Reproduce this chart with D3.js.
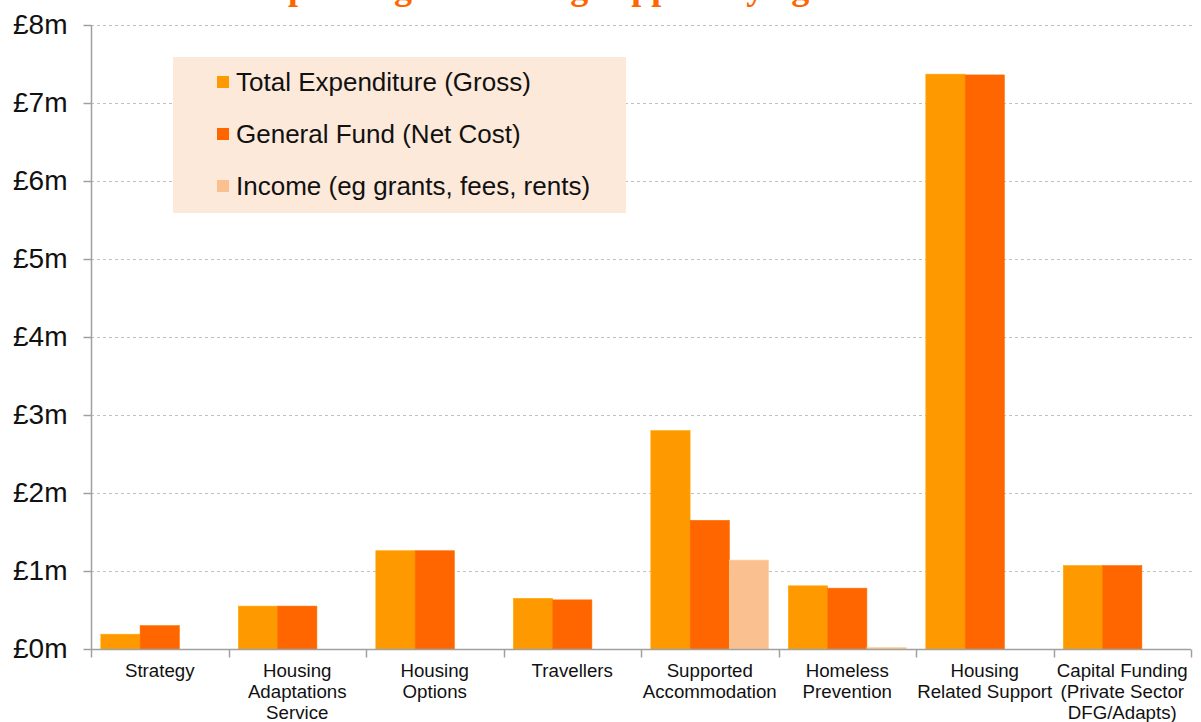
<!DOCTYPE html>
<html>
<head>
<meta charset="utf-8">
<script src="https://cdn.jsdelivr.net/npm/d3@7"></script>
<style>
  body { margin: 0; background: #fff; }
  svg { display: block; }
</style>
</head>
<body>
<div id="chart"></div>
<script>
// categories (multi-line labels)
var categories = [
  ["Strategy"],
  ["Housing", "Adaptations", "Service"],
  ["Housing", "Options"],
  ["Travellers"],
  ["Supported", "Accommodation"],
  ["Homeless", "Prevention"],
  ["Housing", "Related Support"],
  ["Capital Funding", "(Private Sector", "DFG/Adapts)"]
];
var seriesNames = ["Total Expenditure (Gross)", "General Fund (Net Cost)", "Income (eg grants, fees, rents)"];
var seriesColors = ["#ff9900", "#ff6600", "#fac090"];

// values in £m
var grossValues  = [0.19, 0.55, 1.26, 0.65, 2.80, 0.81, 7.37, 1.07];
var netValues    = [0.30, 0.55, 1.26, 0.63, 1.65, 0.78, 7.36, 1.07];
var incomeValues = [0,    0,    0,    0,    1.14, 0.02, 0,    0];

var yTicks = [0, 1, 2, 3, 4, 5, 6, 7, 8];
var titleText = "Spending on housing support by age";

var width = 1201, height = 722;
var margin = {left: 91, right: 10, top: 25, bottom: 73};

var svg = d3.select("#chart").append("svg")
  .attr("width", width)
  .attr("height", height);

// title (only its descenders show at the top edge, as in the slide)
svg.append("text")
  .attr("x", 268)
  .attr("y", -1)
  .attr("font-family", "'Liberation Serif', serif")
  .attr("font-weight", "bold")
  .attr("font-size", 36)
  .attr("fill", "#ff6600")
  .text(titleText);

var x = d3.scaleBand()
  .domain(d3.range(categories.length))
  .range([margin.left, width - margin.right]);

var xs = d3.scaleBand()
  .domain([0, 1, 2])
  .range([0, x.bandwidth()])
  .paddingOuter(0.25)
  .paddingInner(0);

var y = d3.scaleLinear()
  .domain([0, 8])
  .range([height - margin.bottom, margin.top]);

// gridlines
svg.append("g")
  .selectAll("line")
  .data(yTicks.slice(1))
  .join("line")
  .attr("x1", margin.left)
  .attr("x2", width - margin.right + 4)
  .attr("y1", function(d){ return Math.round(y(d)) + 0.5; })
  .attr("y2", function(d){ return Math.round(y(d)) + 0.5; })
  .attr("stroke", "#c0c0c0")
  .attr("stroke-width", 1)
  .attr("stroke-dasharray", "3,3");

// bars
var seriesValues = [grossValues, netValues, incomeValues];
seriesValues.forEach(function(vals, s){
  svg.append("g")
    .selectAll("rect")
    .data(vals)
    .join("rect")
    .attr("x", function(d, i){ return x(i) + xs(s); })
    .attr("y", function(d){ return y(d); })
    .attr("width", xs.bandwidth())
    .attr("height", function(d){ return y(0) - y(d); })
    .attr("fill", seriesColors[s])
    .attr("stroke", d3.color(seriesColors[s]).brighter(0.3))
    .attr("stroke-width", 0.6);
});

// y axis
var yAxis = d3.axisLeft(y)
  .tickValues(yTicks)
  .tickSize(8)
  .tickPadding(16)
  .tickFormat(function(d){ return "£" + d + "m"; });

var gy = svg.append("g")
  .attr("transform", "translate(" + (margin.left + 0.5) + ",0)")
  .call(yAxis);
gy.selectAll("path, line").attr("stroke", "#a0a0a0").attr("stroke-width", 1.5);
gy.select(".domain").attr("d", "M0," + y(8) + "V" + y(0));
gy.selectAll("text")
  .attr("font-family", "'Liberation Sans', Arial, sans-serif")
  .attr("font-size", 28)
  .attr("fill", "#111");

// x axis line + ticks at band edges
var x0 = y(0) + 0.5;
svg.append("line")
  .attr("x1", margin.left)
  .attr("x2", width - margin.right)
  .attr("y1", x0).attr("y2", x0)
  .attr("stroke", "#a0a0a0").attr("stroke-width", 1.5);

svg.append("g")
  .selectAll("line")
  .data(d3.range(categories.length + 1))
  .join("line")
  .attr("x1", function(i){ return Math.round(margin.left + i * x.step()) + 0.5; })
  .attr("x2", function(i){ return Math.round(margin.left + i * x.step()) + 0.5; })
  .attr("y1", x0).attr("y2", x0 + 8)
  .attr("stroke", "#a0a0a0").attr("stroke-width", 1.5);

// category labels
var lab = svg.append("g")
  .selectAll("text")
  .data(categories)
  .join("text")
  .attr("x", function(d, i){ return x(i) + x.bandwidth() / 2; })
  .attr("y", 677)
  .attr("text-anchor", "middle")
  .attr("font-family", "'Liberation Sans', Arial, sans-serif")
  .attr("font-size", 18.7)
  .attr("fill", "#111");
lab.selectAll("tspan")
  .data(function(d){ return d; })
  .join("tspan")
  .attr("x", function(){ return d3.select(this.parentNode).attr("x"); })
  .attr("dy", function(d, i){ return i === 0 ? 0 : 21; })
  .text(function(d){ return d; });

// legend
var lg = svg.append("g");
lg.append("rect")
  .attr("x", 173).attr("y", 57)
  .attr("width", 453).attr("height", 156)
  .attr("fill", "#fce9da");

seriesNames.forEach(function(name, i){
  var cy = 82 + i * 52;
  lg.append("rect")
    .attr("x", 217).attr("y", cy - 6)
    .attr("width", 12).attr("height", 12)
    .attr("fill", seriesColors[i]);
  lg.append("text")
    .attr("x", 236).attr("y", cy + 9)
    .attr("font-family", "'Liberation Sans', Arial, sans-serif")
    .attr("font-size", 26)
    .attr("fill", "#111")
    .text(name);
});
</script>
</body>
</html>
